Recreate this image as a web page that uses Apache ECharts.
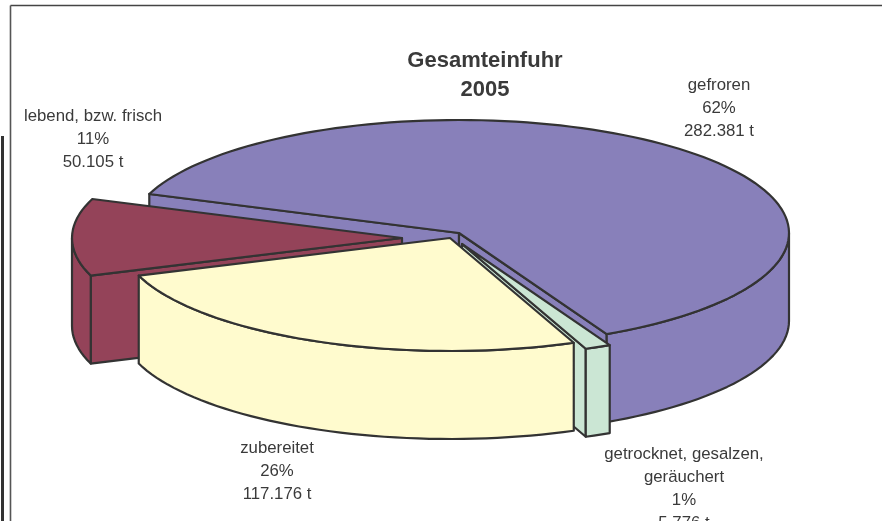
<!DOCTYPE html>
<html>
<head>
<meta charset="utf-8">
<style>html,body{margin:0;padding:0;background:#fff}#c{width:882px;height:521px}</style>
<script src="https://cdn.jsdelivr.net/npm/echarts@6/dist/echarts.min.js"></script>
</head>
<body>
<div id="c"></div>
<script>
// Data, clockwise from the back-left edge of the first slice
const categories = ['gefroren', 'getrocknet, gesalzen,\ngeräuchert', 'zubereitet', 'lebend, bzw. frisch'];
const tonnes = [282381, 5776, 117176, 50105];
const colors = ['#8880BA', '#CBE6D4', '#FFFBCE', '#944359'];
const title = 'Gesamteinfuhr\n2005';

// Layout of the tilted pie
const drawOrder = [0, 3, 1, 2];
const explodedCentres = [[459, 233], [462, 244], [450, 238], [402, 238]];
const labelCentres = [[719, 108.5], [684, 488.5], [277, 471], [93, 139]];
const radiusX = 330, radiusY = 113, depth = 88, startDeg = -159.8;
const edge = '#333333', edgeWidth = 2.2;

const total = tonnes.reduce((a, b) => a + b, 0);
const spans = [];
let acc = startDeg;
tonnes.forEach(v => { const s = v / total * 360; spans.push([acc, acc + s]); acc += s; });
const fmt = v => String(v).replace(/\B(?=(\d{3})+$)/g, '.');
const rad = d => d * Math.PI / 180;

function arc(c, a0, a1, dy) {
  const n = Math.max(2, Math.ceil(Math.abs(a1 - a0) / 2));
  const pts = [];
  for (let i = 0; i <= n; i++) {
    const a = rad(a0 + (a1 - a0) * i / n);
    pts.push([c[0] + radiusX * Math.cos(a), c[1] + dy + radiusY * Math.sin(a)]);
  }
  return pts;
}
function poly(points, fill, z2) {
  return { type: 'polygon', shape: { points }, z2,
    style: { fill, stroke: edge, lineWidth: edgeWidth, lineJoin: 'round' } };
}
function cutWall(c, a, fill, z2) {
  const p = arc(c, a, a, 0)[0];
  return poly([c, p, [p[0], p[1] + depth], [c[0], c[1] + depth]], fill, z2);
}
function frontWalls(c, a0, a1, fill, z2) {
  // Only the part of the rim that faces the viewer (0..180 deg) is visible
  const out = [];
  [[-360, -180], [0, 180], [360, 540]].forEach(([lo, hi]) => {
    const s = Math.max(a0, lo), e = Math.min(a1, hi);
    if (e > s) {
      out.push(poly(arc(c, s, e, 0).concat(arc(c, e, s, depth)), fill, z2));
    }
  });
  return out;
}

function renderSlice(params, api) {
  const i = api.value(0);
  const c = explodedCentres[i], [a0, a1] = spans[i], fill = colors[i];
  const base = params.dataIndex * 10;
  const kids = [];
  // A cut face is visible only when its outward normal points towards the viewer
  if (Math.sin(rad(a0 - 90)) > 0) kids.push(cutWall(c, a0, fill, base + 1));
  if (Math.sin(rad(a1 + 90)) > 0) kids.push(cutWall(c, a1, fill, base + 1));
  frontWalls(c, a0, a1, fill, base + 2).forEach(k => kids.push(k));
  kids.push(poly([c].concat(arc(c, a0, a1, 0)), fill, base + 3));
  const pct = Math.round(tonnes[i] / total * 100);
  kids.push({
    type: 'text', z2: 100,
    style: {
      x: labelCentres[i][0], y: labelCentres[i][1],
      text: categories[i] + '\n' + pct + '%\n' + fmt(tonnes[i]) + ' t',
      fill: '#3a3a3a', font: '16.8px "Liberation Sans", Arial, sans-serif',
      align: 'center', verticalAlign: 'middle', lineHeight: 23
    }
  });
  return { type: 'group', children: kids };
}

const chart = echarts.init(document.getElementById('c'), null, { renderer: 'canvas' });
chart.setOption({
  animation: false,
  backgroundColor: '#fff',
  title: {
    text: title, left: 480, top: 41, textAlign: 'center',
    textStyle: { fontFamily: '"Liberation Sans", Arial, sans-serif', fontSize: 22, fontWeight: 'bold', color: '#3a3a3a', lineHeight: 29 }
  },
  graphic: [
    { type: 'line', shape: { x1: 10.5, y1: 5.5, x2: 882, y2: 5.5 }, style: { stroke: '#444', lineWidth: 1.6 } },
    { type: 'line', shape: { x1: 10.5, y1: 5.5, x2: 10.5, y2: 521 }, style: { stroke: '#555', lineWidth: 1.6 } },
    { type: 'rect', shape: { x: 1, y: 136, width: 3, height: 385 }, style: { fill: '#333' } }
  ],
  series: [{
    type: 'custom',
    coordinateSystem: 'none',
    renderItem: renderSlice,
    clip: false,
    data: drawOrder.map(i => [i, tonnes[i]]),
    encode: { value: [0, 1] }
  }]
});
</script>
</body>
</html>
